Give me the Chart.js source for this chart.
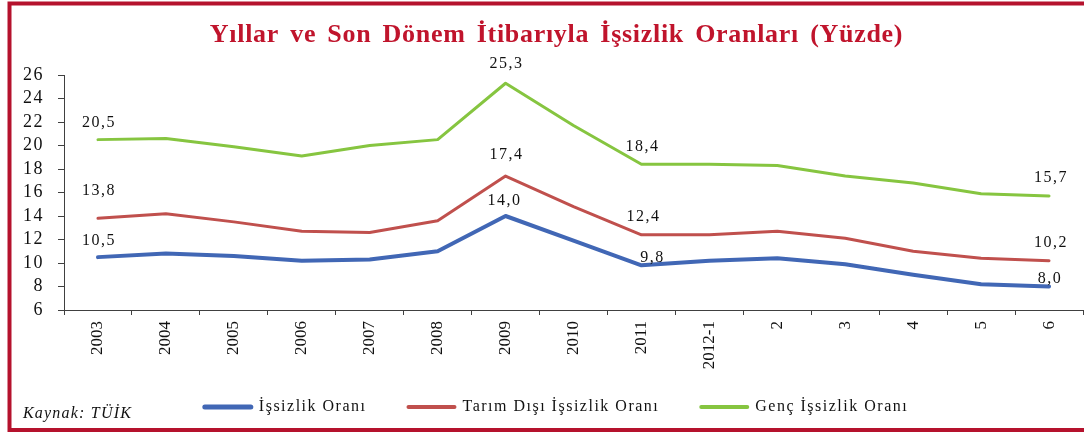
<!DOCTYPE html>
<html>
<head>
<meta charset="utf-8">
<script src="https://cdn.jsdelivr.net/npm/chart.js@4"></script>
<style>
  html, body { margin: 0; padding: 0; background: #fff; }
  #wrap { width: 1084px; height: 434px; }
</style>
</head>
<body>
<div id="wrap"><canvas id="issizlikChart"></canvas></div>
<script>
// Dönemler (x ekseni)
const periods = ['2003', '2004', '2005', '2006', '2007', '2008', '2009', '2010', '2011', '2012-1', '2', '3', '4', '5', '6'];

// Seriler (yüzde)
const issizlik = [10.5, 10.8, 10.6, 10.2, 10.3, 11.0, 14.0, 11.9, 9.8, 10.2, 10.4, 9.9, 9.0, 8.2, 8.0];
const tarimDisi = [13.8, 14.2, 13.5, 12.7, 12.6, 13.6, 17.4, 14.8, 12.4, 12.4, 12.7, 12.1, 11.0, 10.4, 10.2];
const gencIssizlik = [20.5, 20.6, 19.9, 19.1, 20.0, 20.5, 25.3, 21.7, 18.4, 18.4, 18.3, 17.4, 16.8, 15.9, 15.7];

// Y ekseni
const yMin = 6;
const yMax = 26;
const yStep = 2;

// Değeri yazılan noktalar
const labelledPoints = [0, 6, 8, 14];

const chartTitle = 'Yıllar ve Son Dönem İtibarıyla İşsizlik Oranları (Yüzde)';
const sourceNote = 'Kaynak: TÜİK';

const SERIF = '"Liberation Serif", "Times New Roman", serif';

// Etiketlerin noktaya göre kayması (seri başına: dikey, yatay)
const labelShiftY = [
    [-16, -15, -8, -8],
    [-28, -21, -18, -18],
    [-17, -19, -18, -18]
];
const labelShiftX = [
    [0, -2, 10, 0],
    [0, 0, 1, 1],
    [0, 0, 0, 1]
];

// Kaynak grafikte yazılar yatayda geniş; y ekseni yazılarına harf aralığı ver
const spacingPlugin = {
    id: 'spacing',
    beforeDraw(chart) { chart.ctx.letterSpacing = '1.5px'; },
    beforeDatasetsDraw(chart) { chart.ctx.letterSpacing = '0px'; }
};

// Çerçeve, başlık, kaynak notu ve gösterge
const framePlugin = {
    id: 'frame',
    beforeDraw(chart) {
        const ctx = chart.ctx;
        ctx.save();
        ctx.fillStyle = '#ffffff';
        ctx.fillRect(0, 0, chart.width, chart.height);
        ctx.restore();
    },
    afterDraw(chart) {
        const ctx = chart.ctx;
        ctx.save();

        // çerçeve
        ctx.strokeStyle = '#b5122d';
        ctx.lineWidth = 4;
        ctx.strokeRect(9.5, 3.5, chart.width + 10, 426.5);

        // başlık
        ctx.fillStyle = '#c0142c';
        ctx.font = 'bold 26px ' + SERIF;
        ctx.letterSpacing = '0.7px';
        ctx.wordSpacing = '4px';
        ctx.textAlign = 'left';
        ctx.textBaseline = 'alphabetic';
        const tw = ctx.measureText(chartTitle).width;
        ctx.fillText(chartTitle, 556.5 - tw / 2, 42);
        ctx.wordSpacing = '0px';

        // kaynak
        ctx.fillStyle = '#111';
        ctx.font = 'italic 16px ' + SERIF;
        ctx.letterSpacing = '1.2px';
        ctx.fillText(sourceNote, 23, 418);

        // gösterge
        ctx.font = '16px ' + SERIF;
        ctx.letterSpacing = '1.5px';
        ctx.textBaseline = 'middle';
        const lineLen = 50, textGap = 6, itemGap = 40, legendY = 407;
        const items = chart.data.datasets.map(ds => ({
            ds,
            w: lineLen + textGap + ctx.measureText(ds.label).width
        }));
        const total = items.reduce((s, it) => s + it.w, 0) + itemGap * (items.length - 1);
        let x = 555.5 - total / 2;
        items.forEach(it => {
            ctx.strokeStyle = it.ds.borderColor;
            ctx.lineWidth = it.ds.borderWidth + 1;
            ctx.lineCap = 'round';
            ctx.beginPath();
            ctx.moveTo(x + 2, legendY);
            ctx.lineTo(x + lineLen - 2, legendY);
            ctx.stroke();
            ctx.fillText(it.ds.label, x + lineLen + textGap, legendY);
            x += it.w + itemGap;
        });

        ctx.restore();
    }
};

// Nokta değer etiketleri (virgüllü)
const valueLabelPlugin = {
    id: 'valueLabels',
    afterDatasetsDraw(chart) {
        const ctx = chart.ctx;
        ctx.save();
        ctx.fillStyle = '#111';
        ctx.font = '16px ' + SERIF;
        ctx.letterSpacing = '1.5px';
        ctx.textAlign = 'center';
        ctx.textBaseline = 'middle';
        chart.data.datasets.forEach((ds, di) => {
            const meta = chart.getDatasetMeta(di);
            labelledPoints.forEach((idx, k) => {
                const pt = meta.data[idx];
                if (!pt) return;
                const txt = ds.data[idx].toFixed(1).replace('.', ',');
                ctx.fillText(txt, pt.x + 1 + labelShiftX[di][k], pt.y + labelShiftY[di][k]);
            });
        });
        ctx.restore();
    }
};

const ctx = document.getElementById('issizlikChart');

new Chart(ctx.getContext('2d'), {
    type: 'line',
    data: {
        labels: periods,
        datasets: [
            {
                label: 'İşsizlik Oranı',
                data: issizlik,
                borderColor: '#4167b5',
                backgroundColor: '#4167b5',
                borderWidth: 4
            },
            {
                label: 'Tarım Dışı İşsizlik Oranı',
                data: tarimDisi,
                borderColor: '#c0504d',
                backgroundColor: '#c0504d',
                borderWidth: 3
            },
            {
                label: 'Genç İşsizlik Oranı',
                data: gencIssizlik,
                borderColor: '#86c540',
                backgroundColor: '#86c540',
                borderWidth: 3
            }
        ]
    },
    options: {
        responsive: true,
        maintainAspectRatio: false,
        animation: false,
        elements: {
            point: { radius: 0, hoverRadius: 0 },
            line: { tension: 0, borderCapStyle: 'round', borderJoinStyle: 'round' }
        },
        layout: {
            padding: { left: 14, right: 1, top: 75, bottom: 62 }
        },
        plugins: {
            title: { display: false },
            legend: { display: false },
            tooltip: { enabled: false }
        },
        scales: {
            x: {
                offset: true,
                afterFit(scale) { scale.height = 62; },
                grid: {
                    offset: true,
                    drawOnChartArea: false,
                    drawTicks: true,
                    tickLength: 5,
                    color: '#404040'
                },
                border: { color: '#404040', width: 1 },
                ticks: {
                    autoSkip: false,
                    minRotation: 90,
                    maxRotation: 90,
                    padding: 6,
                    z: 1,
                    color: '#111',
                    font: { family: SERIF, size: 17 }
                }
            },
            y: {
                min: yMin,
                max: yMax,
                afterFit(scale) { scale.width = 50; },
                grid: {
                    drawOnChartArea: false,
                    drawTicks: true,
                    tickLength: 6,
                    color: '#404040'
                },
                border: { color: '#404040', width: 1 },
                ticks: {
                    stepSize: yStep,
                    autoSkip: false,
                    padding: 14,
                    color: '#111',
                    font: { family: SERIF, size: 18 }
                }
            }
        }
    },
    plugins: [framePlugin, spacingPlugin, valueLabelPlugin]
});
</script>
</body>
</html>
